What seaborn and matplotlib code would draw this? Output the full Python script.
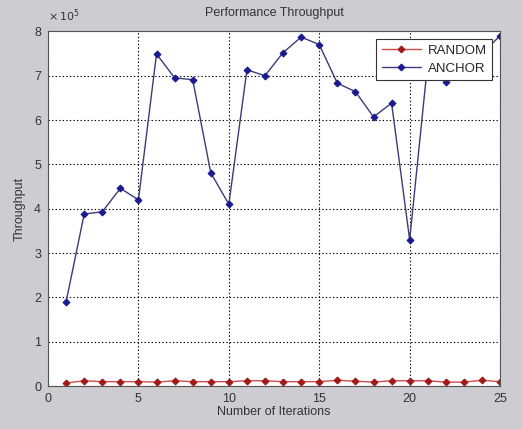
import matplotlib
matplotlib.use("Agg")
import matplotlib.pyplot as plt
import seaborn as sns
import pandas as pd
import numpy as np

iterations = list(range(1, 26))
anchor = [1.90, 3.88, 3.93, 4.46, 4.20, 7.49, 6.95, 6.91, 4.81, 4.10,
          7.13, 7.00, 7.52, 7.87, 7.70, 6.83, 6.64, 6.07, 6.38, 3.30,
          7.30, 6.85, 7.20, 7.50, 7.90]
random_ = [0.07, 0.12, 0.10, 0.10, 0.10, 0.09, 0.12, 0.10, 0.10, 0.10,
           0.12, 0.12, 0.10, 0.10, 0.10, 0.13, 0.11, 0.09, 0.12, 0.12,
           0.12, 0.09, 0.09, 0.13, 0.10]
series_names = ["RANDOM", "ANCHOR"]
xticks = [0, 5, 10, 15, 20, 25]
yticks = [0, 1, 2, 3, 4, 5, 6, 7, 8]

df = pd.DataFrame({
    "Iteration": iterations * 2,
    "Throughput": random_ + anchor,
    "Series": [series_names[0]] * len(iterations) + [series_names[1]] * len(iterations),
})

sns.set_style("white")
plt.rcParams["font.family"] = ["Liberation Sans", "DejaVu Sans"]

fig = plt.figure(figsize=(5.22, 4.29), dpi=100, facecolor="#cdcdd1")
ax = fig.add_axes([0.092, 0.100, 0.866, 0.827])
ax.set_facecolor("white")

palette = {"RANDOM": "#d24a4a", "ANCHOR": "#3b3b78"}
mcolors = ["#a01818", "#1a1a90"]
sns.lineplot(data=df, x="Iteration", y="Throughput", hue="Series",
             palette=palette, marker="D", markersize=3.5, linewidth=1.0,
             ax=ax, legend=True)

for line, mc in zip(ax.get_lines()[:2], mcolors):
    line.set_markerfacecolor(mc)
    line.set_markeredgecolor(mc)

ax.set_xlim(0, 25)
ax.set_ylim(0, 8)
ax.set_xticks(xticks)
ax.set_yticks(yticks)
ax.grid(True, color="black", linestyle=(0, (1.2, 2.0)), linewidth=0.8)
ax.tick_params(axis="both", labelsize=9, colors="#333333", direction="in", length=3, pad=5)
for s in ax.spines.values():
    s.set_color("#555555")
    s.set_linewidth(0.8)

ax.set_title("Performance Throughput", fontsize=9, color="#333333", pad=11)
ax.set_xlabel("Number of Iterations", fontsize=9, color="#333333", labelpad=1)
ax.set_ylabel("Throughput", fontsize=9, color="#333333", labelpad=6)
ax.text(0.0, 1.02, r"$\times\,10^5$", transform=ax.transAxes, fontsize=8,
        color="#333333", ha="left", va="bottom")

leg = ax.legend(loc="upper right", fontsize=9.5, frameon=True, fancybox=False,
                framealpha=1, edgecolor="#333333", borderaxespad=0.6,
                handlelength=3.0, handletextpad=0.5, borderpad=0.4,
                labelspacing=0.45)
leg.get_frame().set_linewidth(0.8)
for h, mc in zip(leg.legend_handles, mcolors):
    h.set_markerfacecolor(mc)
    h.set_markeredgecolor(mc)

fig.savefig("out.png", dpi=100, facecolor=fig.get_facecolor())
